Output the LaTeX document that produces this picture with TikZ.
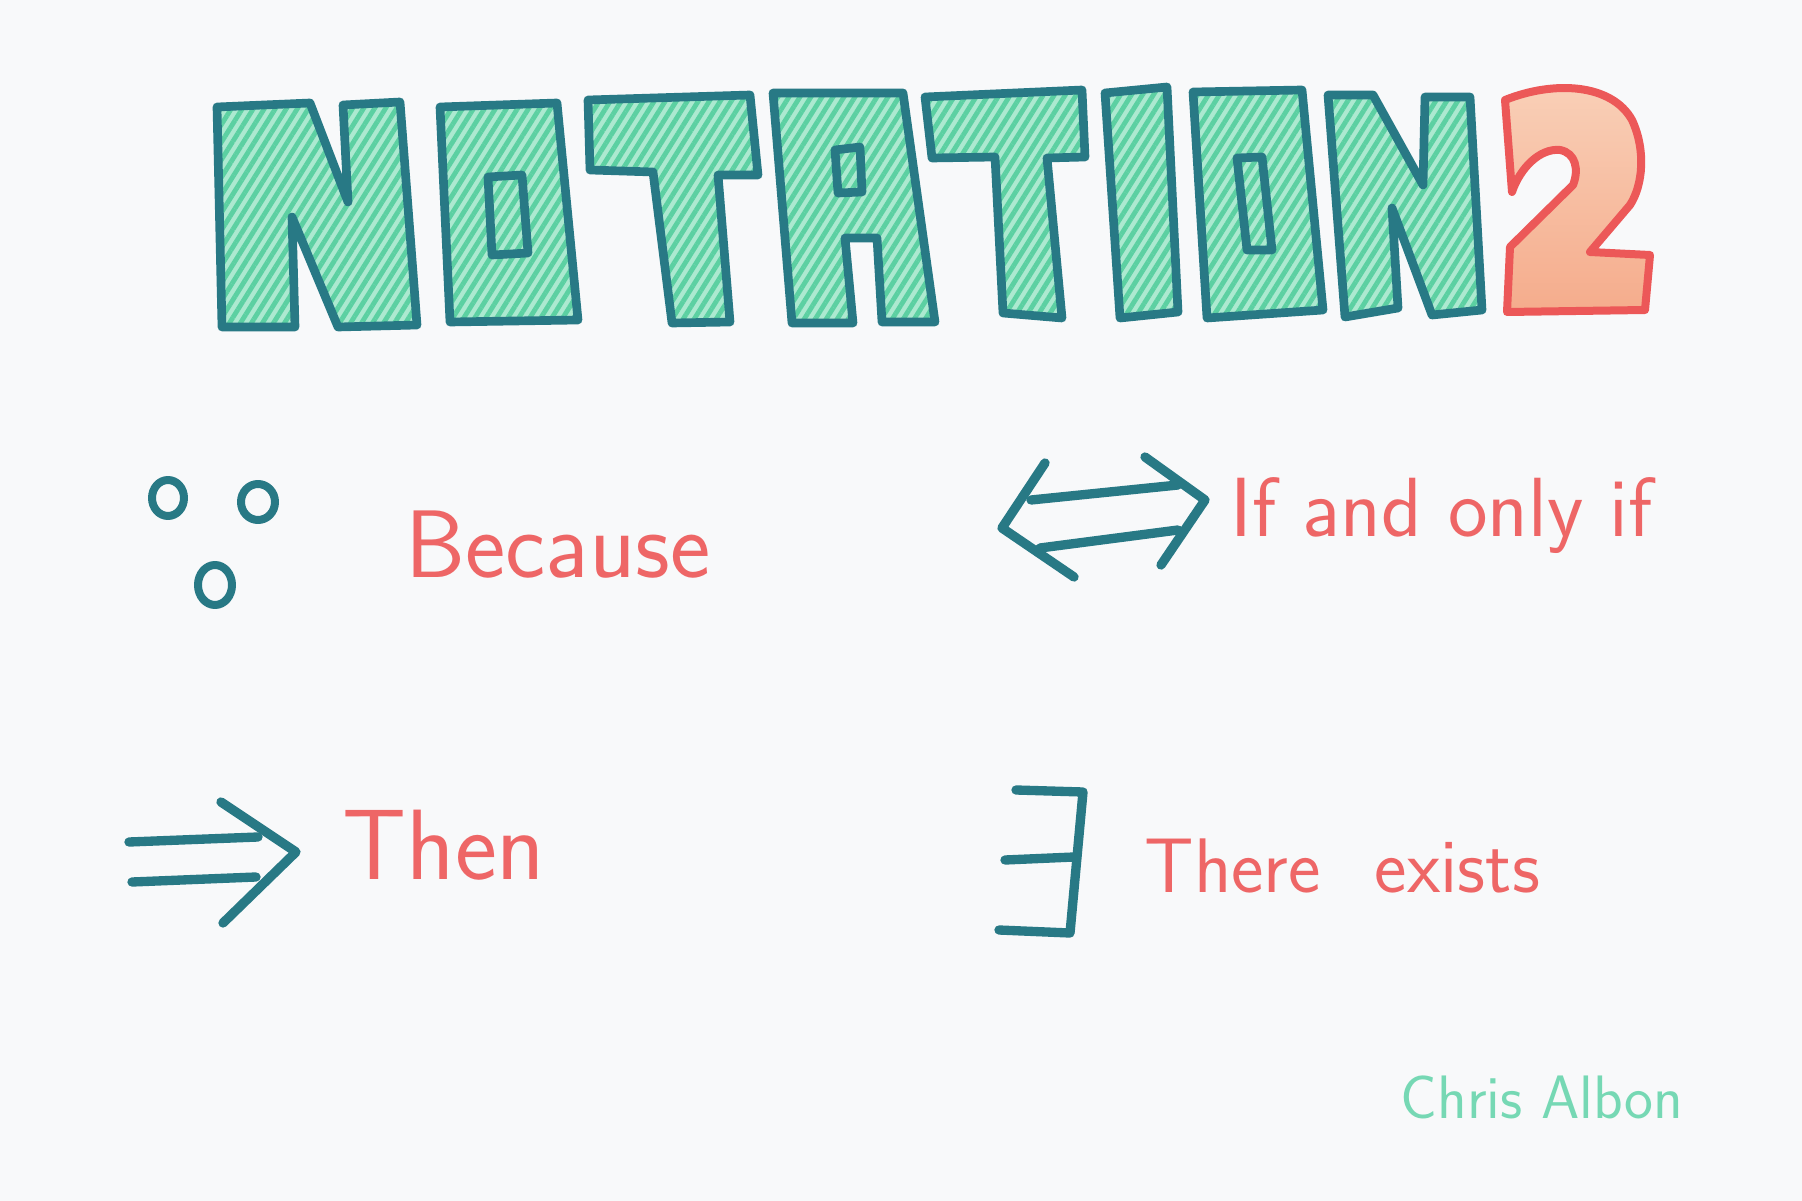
\documentclass[tikz,border=0pt]{standalone}
\usepackage{fontspec}
\usetikzlibrary{patterns.meta}

\definecolor{inkteal}{RGB}{40,121,133}
\definecolor{hatchgreen}{RGB}{92,208,162}
\definecolor{palegreen}{RGB}{172,233,208}
\definecolor{markred}{RGB}{236,88,88}
\definecolor{notered}{RGB}{238,102,102}
\definecolor{peachtop}{RGB}{249,208,184}
\definecolor{peachbottom}{RGB}{245,172,140}
\definecolor{mint}{RGB}{118,216,180}
\definecolor{paper}{RGB}{248,249,250}

\tikzset{every picture/.style={line width=0.75pt},
  blockletter/.style={draw=inkteal, line width=6.5pt, line join=round, even odd rule,
    preaction={fill=palegreen},
    preaction={pattern={Lines[angle=58,distance=7pt,line width=3.6pt]}, pattern color=hatchgreen}},
  pen/.style={draw=inkteal, line width=7pt, line cap=round, line join=round},
  scribble/.style={text=notered, font=\sffamily, inner sep=0pt, anchor=base west}}

\begin{document}
\begin{tikzpicture}[x=0.75pt,y=0.75pt,yscale=-1,xscale=1]
% paper
\fill [paper] (0,0) rectangle (1802,1201);
\useasboundingbox (0,0) rectangle (1802,1201);

%Shape: N
\draw [blockletter] (217,107) -- (310,103) -- (348,202) -- (343,105) -- (400,102) -- (417,325) -- (338,327) -- (292,217) -- (295,327) -- (222,327) -- cycle ;
%Shape: O
\draw [blockletter] (440,107) -- (557,103) -- (578,320) -- (450,322) -- cycle (488,177) -- (522,175) -- (528,253) -- (492,255) -- cycle ;
%Shape: T
\draw [blockletter] (588,100) -- (750,95) -- (758,175) -- (718,175) -- (730,322) -- (672,323) -- (653,172) -- (590,170) -- cycle ;
%Shape: A
\draw [blockletter] (773,93) -- (903,93) -- (935,322) -- (882,322) -- (877,238) -- (845,238) -- (853,323) -- (792,323) -- cycle (835,150) -- (860,147) -- (862,192) -- (838,193) -- cycle ;
%Shape: T
\draw [blockletter] (925,97) -- (1082,90) -- (1085,157) -- (1047,158) -- (1062,318) -- (1003,313) -- (995,157) -- (932,158) -- cycle ;
%Shape: I
\draw [blockletter] (1105,93) -- (1167,87) -- (1178,312) -- (1120,318) -- cycle ;
%Shape: O
\draw [blockletter] (1193,92) -- (1302,90) -- (1323,310) -- (1207,318) -- cycle (1237,158) -- (1262,157) -- (1272,250) -- (1247,250) -- cycle ;
%Shape: N
\draw [blockletter] (1328,95) -- (1373,95) -- (1423,185) -- (1425,97) -- (1470,97) -- (1482,310) -- (1432,315) -- (1392,208) -- (1398,308) -- (1345,317) -- cycle ;
%Shape: 2
\draw [draw=markred, line width=6pt, line join=round, top color=peachtop, bottom color=peachbottom] (1505,100) .. controls (1555,80) and (1612,84) .. (1632,120) .. controls (1646,150) and (1643,185) .. (1630,205) -- (1590,252) -- (1650,255) -- (1645,310) -- (1507,312) -- (1510,247) -- (1573,185) .. controls (1579,170) and (1576,153) .. (1560,150) .. controls (1540,148) and (1520,168) .. (1512,192) -- cycle ;

%Because dots
\draw [pen, line width=6pt] (168,498) ellipse [x radius=16, y radius=18] ;
\draw [pen, line width=6pt] (258,502) ellipse [x radius=17, y radius=18] ;
\draw [pen, line width=6pt] (215,585) ellipse [x radius=17, y radius=20] ;
% Text Node
\node (because) [scribble, font=\sffamily\fontsize{72}{74}\selectfont] at (405,577) {Because};

%Double arrow, both ways
\draw [pen] (1045,463) -- (1002,528) -- (1074,577) ;
\draw [pen] (1145,457) -- (1205,500) -- (1161,565) ;
\draw [pen] (1031,500) -- (1178,485) ;
\draw [pen] (1040,548) -- (1178,530) ;
% Text Node
\node (iff) [scribble, font=\sffamily\fontsize{63}{65}\selectfont] at (1230,536) {If and only if};

%Double arrow, one way
\draw [pen] (129,842) -- (258,837) ;
\draw [pen] (132,882) -- (256,877) ;
\draw [pen] (221,802) -- (296,852) -- (223,923) ;
% Text Node
\node (then) [scribble, font=\sffamily\fontsize{75}{77}\selectfont] at (342,879) {Then};

%Exists sign
\draw [pen] (1016,790) -- (1083,792) -- (1070,933) -- (999,930) ;
\draw [pen] (1005,860) -- (1074,857) ;
% Text Node
\node (exists) [scribble, font=\sffamily\fontsize{58}{60}\selectfont] at (1144,892) {There\hspace{0.7em}exists};

% Text Node
\node (signature) [scribble, text=mint, font=\sffamily\fontsize{46}{48}\selectfont] at (1400,1118) {Chris Albon};

\end{tikzpicture}
\end{document}
